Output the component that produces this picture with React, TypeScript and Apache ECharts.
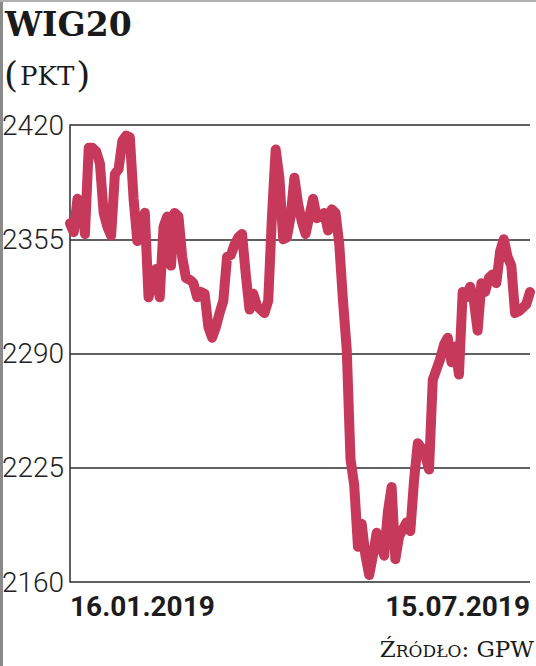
import React, { useEffect, useRef } from "react";
import * as echarts from "echarts";

// WIG20 closing values, one per trading day, 16.01.2019 – 15.07.2019
const values: number[] = [
  2364, 2359, 2378, 2376, 2358, 2407, 2407, 2405, 2398, 2370,
  2362, 2357, 2392, 2395, 2411, 2414, 2413, 2378, 2354, 2360,
  2370, 2322, 2330, 2338, 2322, 2362, 2368, 2340, 2370, 2368,
  2345, 2333, 2332, 2330, 2322, 2325, 2324, 2305, 2299, 2305,
  2313, 2320, 2345, 2346, 2352, 2356, 2358, 2335, 2315, 2324,
  2317, 2315, 2313, 2320, 2368, 2406, 2390, 2355, 2356, 2368,
  2390, 2375, 2365, 2358, 2368, 2378, 2367, 2368, 2370, 2360,
  2372, 2370, 2352, 2320, 2292, 2230, 2215, 2180, 2193, 2175,
  2164, 2175, 2188, 2182, 2175, 2200, 2214, 2173, 2186, 2190,
  2194, 2189, 2218, 2239, 2236, 2232, 2224, 2275, 2281, 2287,
  2295, 2299, 2285, 2294, 2278, 2325, 2322, 2328, 2320, 2303,
  2330, 2325, 2333, 2335, 2330, 2348, 2355, 2345, 2340, 2313,
  2314, 2316, 2318, 2325,
];

const startDate = "2019-01-16";
const holidays = ["2019-04-19", "2019-04-22", "2019-05-01", "2019-05-03", "2019-06-20"];
const yTicks = [2160, 2225, 2290, 2355, 2420];
const title = "WIG20";
const unit = "PKT";
const source = { first: "Ź", rest: "RÓDŁO", tail: ": GPW" };

function tradingDays(start: string, count: number): string[] {
  const out: string[] = [];
  const d = new Date(start + "T12:00:00Z");
  while (out.length < count) {
    const iso = d.toISOString().slice(0, 10);
    const wd = d.getUTCDay();
    if (wd !== 0 && wd !== 6 && !holidays.includes(iso)) {
      const [y, m, dd] = iso.split("-");
      out.push(`${dd}.${m}.${y}`);
    }
    d.setUTCDate(d.getUTCDate() + 1);
  }
  return out;
}

const categories = tradingDays(startDate, values.length);

export default function App() {
  const ref = useRef<HTMLDivElement>(null);
  useEffect(() => {
    if (!ref.current) return;
    const chart = echarts.init(ref.current, null, { renderer: "svg" });
    const last = categories.length - 1;
    chart.setOption({
      animation: false,
      backgroundColor: "#ffffff",
      grid: { left: 70, right: 6, top: 125, bottom: 84, containLabel: false, outerBoundsMode: "none" },
      xAxis: {
        type: "category",
        data: categories,
        boundaryGap: false,
        axisLine: { show: false },
        axisTick: { show: false },
        splitLine: { show: false },
        axisLabel: {
          interval: (i: number) => i === 0 || i === last,
          showMinLabel: true,
          showMaxLabel: true,
          alignMinLabel: "left",
          alignMaxLabel: "right",
          fontFamily: "Roboto",
          fontWeight: "bold",
          fontSize: 28,
          color: "#1c1c1c",
          margin: 10,
        },
      },
      yAxis: {
        type: "value",
        min: yTicks[0],
        max: yTicks[yTicks.length - 1],
        interval: yTicks[1] - yTicks[0],
        axisLine: { show: true, lineStyle: { color: "#2b2b2b", width: 1.5 } },
        axisTick: { show: false },
        splitLine: { show: true, lineStyle: { color: "#2b2b2b", width: 1.5 } },
        axisLabel: {
          formatter: (v: number) => String(v),
          fontFamily: "Roboto",
          fontWeight: 300,
          fontSize: 28,
          color: "#222222",
          margin: 6,
        },
      },
      series: [
        {
          type: "line",
          data: values,
          showSymbol: false,
          symbol: "none",
          lineStyle: { color: "#c6395b", width: 10, cap: "round", join: "round" },
          z: 5,
        },
      ],
      graphic: [
        { type: "rect", shape: { x: 0, y: 0, width: 3, height: 666 }, style: { fill: "#8a8a8a" }, silent: true },
        { type: "rect", shape: { x: 0, y: 0, width: 536, height: 2 }, style: { fill: "#b0b0b0" }, silent: true },
        {
          type: "text",
          x: 5,
          y: 24,
          style: {
            text: title,
            fontFamily: "DejaVu Serif",
            fontWeight: "bold",
            fontSize: 33,
            fill: "#1a1a1a",
            verticalAlign: "middle",
            align: "left",
          },
        },
        {
          type: "text",
          x: 4,
          y: 74,
          style: {
            text: `{p|(}{t|${unit}}{p|)}`,
            verticalAlign: "middle",
            align: "left",
            rich: {
              p: { fontFamily: "DejaVu Serif", fontSize: 36, fontWeight: "lighter", fill: "#1a1a1a", verticalAlign: "middle" },
              t: { fontFamily: "DejaVu Serif", fontSize: 26, fill: "#1a1a1a", verticalAlign: "middle", padding: [4, 2, 0, 2] },
            },
          },
        },
        {
          type: "text",
          x: 534,
          y: 649,
          style: {
            text: `{c|${source.first}}{s|${source.rest}}{c|${source.tail}}`,
            verticalAlign: "middle",
            align: "right",
            rich: {
              c: { fontFamily: "DejaVu Serif", fontSize: 23, fill: "#1a1a1a", verticalAlign: "bottom" },
              s: { fontFamily: "DejaVu Serif", fontSize: 17, fill: "#1a1a1a", verticalAlign: "bottom", padding: [0, 0, 1, 0] },
            },
          },
        },
      ],
    });
    return () => chart.dispose();
  }, []);
  return (
    <div
      ref={ref}
      style={{ position: "absolute", left: 0, top: 0, width: 536, height: 666 }}
    />
  );
}
